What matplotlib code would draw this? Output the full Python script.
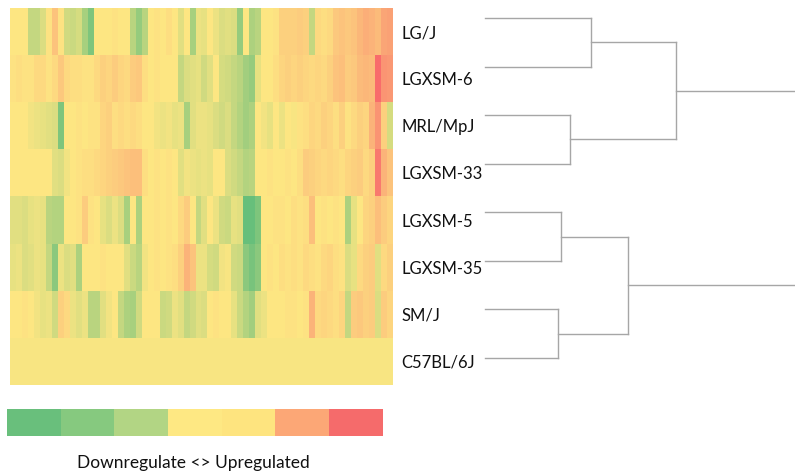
import numpy as np
import matplotlib
matplotlib.use("Agg")
from matplotlib import pyplot as plt
from matplotlib.colors import LinearSegmentedColormap, ListedColormap, TwoSlopeNorm

strains = ["LG/J", "LGXSM-6", "MRL/MpJ", "LGXSM-33", "LGXSM-5", "LGXSM-35", "SM/J", "C57BL/6J"]

# expression change per gene (columns), one list per strain
lgj = [0, 0, 0, -1.0, -1.0, -0.6, 0.1, 0.8, 0.1, -0.8, -0.9, -0.7, -1.5, -2.2, 0, 0,
       0, 0.1, 0, 0, -1.2, -1.8, -1.2, 0, 0.1, 0, 0.2, 0, -0.5, 0, -1.5, -0.3,
       -0.4, 0, -0.3, -0.6, -0.5, -0.6, -1.8, 0, -1.4, -1.2, 0, 0, 0.1, 0.5, 0.5, 0.5,
       0.6, 0.5, -1.0, 0.3, 0.2, 0.3, 0.7, 0.8, 0.7, 0.8, 1.1, 1.3, 1.2, 1.0, 1.5, 1.6]
lgxsm6 = [0.1, 0.2, 0.1, 0.1, 0.3, 0.3, 0.1, 0.3, 0.7, 0.3, 0.2, 0.2, 0.1, 0.1, 0.3, 0.5,
          0.4, 0.6, 0.4, 0.3, 0.6, 0.7, 0.2, 0, 0.1, 0, 0, 0, -1.0, -0.6, -0.5, -0.4,
          -0.8, -0.5, 0, -0.7, -0.8, -1.0, -1.2, -1.6, -1.8, -0.4, 0, 0, 0.2, 0.4, 0.5, 0.4,
          0.5, 0.4, 0.3, 0.4, 0.3, 0.5, 0.8, 0.9, 0.6, 0.7, 1.0, 1.1, 1.0, 2.8, 1.9, 1.8]
mrl = [0, 0, 0, -0.2, -0.3, -0.4, -0.5, -0.6, -2.2, 0, 0, 0.1, 0, 0.1, 0.1, 0.4,
       0.5, 0.2, 0.3, 0.2, 0.3, 0.2, 0, 0, -0.2, -0.3, -0.2, -0.4, -0.3, -1.5, -0.5, -0.3,
       -0.3, -0.4, -0.6, -0.8, -0.6, -1.0, -1.3, -1.6, -1.4, 0, -0.2, -0.4, 0, -0.3, 0, -0.1,
       0.1, 0.2, 0.4, 0.3, 0.5, 0.4, 0.2, 0.5, 0.1, 0.3, 0.5, 0.4, 1.2, 1.9, 0.5, -0.7]
lgxsm33 = [0, 0, 0, 0, 0, 0, 0, -0.5, -0.6, -0.2, 0, 0.1, 0.2, 0.2, 0.3, 0.4,
           0.5, 0.6, 0.7, 0.8, 0.9, 0.9, 0.2, 0, 0.1, 0, 0.1, 0, -0.5, -0.2, -0.3, -0.4,
           -0.3, -0.4, 0, 0, -0.6, -0.8, -1.0, -1.3, -1.2, 0, 0, 0.1, 0, 0, 0.1, 0,
           0.2, 0.6, 0.5, 0.4, 0.3, 0.4, 0.3, 0.2, 0.4, 0.5, 0.6, 0.3, 0.5, 2.5, 1.2, 0.8]
lgxsm5 = [-0.5, -0.5, -0.6, -0.4, -0.3, -0.4, -1.2, -1.3, -1.3, 0, 0, 0.1, 0.6, 0.1, 0, -0.4,
          -0.6, -0.3, -0.6, -1.5, 0, -1.4, 0, 0, 0.1, 0, 0.1, 0, 0.3, 0.6, 0, -1.0,
          -0.5, 0, -0.3, -0.8, -0.9, -0.4, -0.5, -2.6, -2.6, -2.2, 0, 0, 0.1, 0.1, 0, 0.2,
          0.1, 0.2, 0.9, 0, 0.1, 0, 0.1, 0, -1.4, -0.4, 0, 0.4, 0.5, 0.9, 0.6, 0.4]
lgxsm35 = [-0.4, -0.3, -0.6, -0.5, -0.3, -0.4, -1.0, -2.0, -0.3, -0.6, -0.5, -1.4, 0, 0, 0, 0.1,
           0, 0, 0, -0.5, -0.9, -1.2, -0.2, 0, 0.1, 0, 0.1, 0.2, 0.5, 1.2, 0.8, -0.3,
           -0.3, -0.7, -0.8, -0.2, -0.1, -0.8, -0.9, -2.0, -2.3, -2.0, 0, 0.1, 0, 0.2, 0.1, 0.2,
           0.1, 0.3, 0.2, 0.1, 0.3, 0.4, 0.2, 0.1, -0.6, -0.4, 0.3, 0.5, 0.6, -0.5, 0.3, 0.5]
smj = [0, 0, 0.1, 0, -0.2, -0.4, -0.3, -0.8, 0.5, 0.3, -0.3, -0.5, -0.3, -1.2, -1.2, -0.5,
       -0.2, 0, -1.0, -1.4, -1.5, -0.8, 0, 0, 0, -0.9, -0.8, -0.3, -0.5, -1.0, -0.8, -0.5,
       -0.6, 0, 0.1, 0, 0, -0.4, -0.9, -1.3, -1.6, -0.5, -0.3, 0, 0, 0, 0.1, 0.1,
       0, 0.1, 1.2, 0.3, 0.4, 0.3, 0.2, 0.4, -1.0, 0.6, 0.7, 0.5, 0.6, -0.6, 0.6, 0.4]
c57 = [-0.1] * 64

# dendrogram merges: (node a, node b, height); nodes 8+ are earlier merges
merges = [(0, 1, 1.06), (2, 3, 0.85), (8, 9, 1.91),
          (4, 5, 0.76), (6, 7, 0.73), (11, 12, 1.43)]
dendro_max = 3.10

legend_colors = ["#69bf7c", "#86c97f", "#b2d584", "#fee883", "#fee47f", "#fca776", "#f56b6b"]

data = np.array([lgj, lgxsm6, mrl, lgxsm33, lgxsm5, lgxsm35, smj, c57])

cmap = LinearSegmentedColormap.from_list("excel", ["#63be7b", "#fee783", "#f8696b"])
norm = TwoSlopeNorm(vmin=-2.7, vcenter=0, vmax=2.9)

W, H = 795, 475
fig = plt.figure(figsize=(W / 100, H / 100), dpi=100)
plt.rcParams["font.family"] = ["Lato", "DejaVu Sans"]

# heatmap
ax = fig.add_axes([10 / W, 1 - 385 / H, 383 / W, 377 / H])
ax.imshow(data, cmap=cmap, norm=norm, aspect="auto", interpolation="nearest")
ax.set_xticks([])
ax.yaxis.tick_right()
ax.set_yticks(range(len(strains)))
ax.set_yticklabels(strains, fontsize=12, color="#111111")
ax.tick_params(axis="y", length=0, pad=6)
for s in ax.spines.values():
    s.set_visible(False)

# dendrogram
dax = fig.add_axes([485 / W, 1 - 358 / H, 310 / W, 340 / H])
pos = {i: float(i) for i in range(len(strains))}
hgt = {i: 0.0 for i in range(len(strains))}
node = len(strains)
for a, b, h in merges:
    for n in (a, b):
        dax.plot([hgt[n], h], [pos[n], pos[n]], color="#a6a6a6", lw=1.0, clip_on=False)
    dax.plot([h, h], [pos[a], pos[b]], color="#a6a6a6", lw=1.0, clip_on=False)
    pos[node] = (pos[a] + pos[b]) / 2
    hgt[node] = h
    node += 1
for n in (node - 4, node - 1):
    dax.plot([hgt[n], dendro_max], [pos[n], pos[n]], color="#a6a6a6", lw=1.0, clip_on=False)
dax.set_xlim(0, dendro_max)
dax.set_ylim(7, 0)
dax.axis("off")

# legend bar
lax = fig.add_axes([7 / W, 1 - 436 / H, 376 / W, 27 / H])
lax.imshow(np.arange(len(legend_colors))[None, :], cmap=ListedColormap(legend_colors),
           aspect="auto", interpolation="nearest")
lax.set_xticks([])
lax.set_yticks([])
for s in lax.spines.values():
    s.set_visible(False)
fig.text(193 / W, 1 - 463 / H, "Downregulate <> Upregulated", ha="center", va="center",
         fontsize=12.5, color="#111111")

fig.savefig("out.png", dpi=100)
